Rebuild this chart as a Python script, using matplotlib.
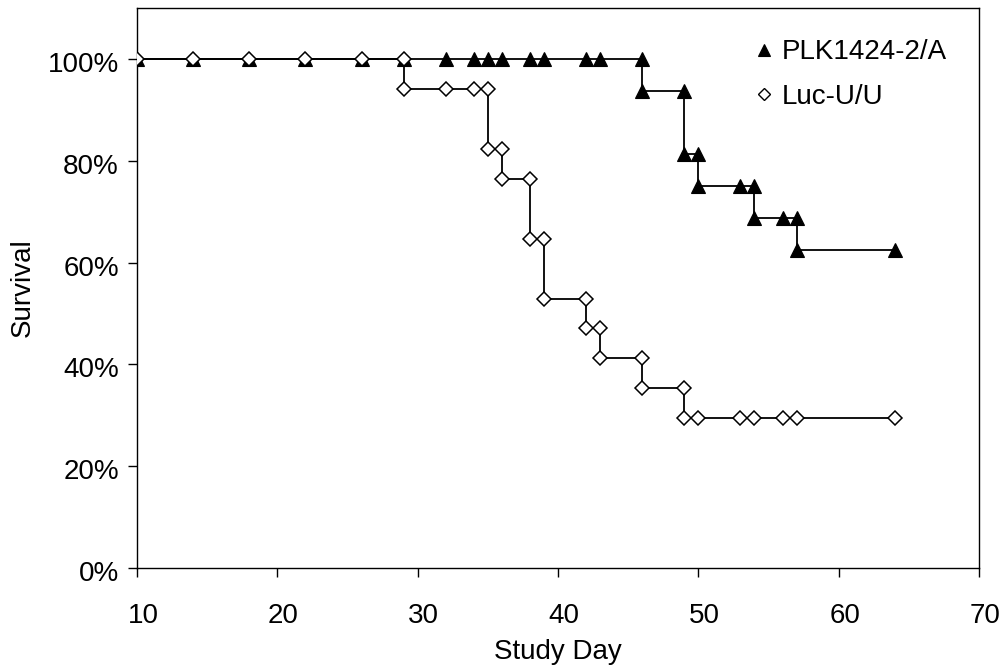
import matplotlib
matplotlib.use('Agg')
import matplotlib.pyplot as plt
import matplotlib.transforms as mtrans
from matplotlib.lines import Line2D
from matplotlib.ticker import FuncFormatter

plt.rcParams['font.family'] = ['Liberation Sans', 'DejaVu Sans']

# ---- data (step-wise Kaplan-Meier points, duplicated day at each drop) ----
plk_days = [10, 14, 18, 22, 26, 29, 32, 34, 35, 36, 38, 39, 42, 43, 46,
            46, 49, 49, 50, 50, 53, 54, 54, 56, 57, 57, 64]
plk_survival = [1.0, 1.0, 1.0, 1.0, 1.0, 1.0, 1.0, 1.0, 1.0, 1.0, 1.0, 1.0, 1.0, 1.0, 1.0,
                0.9375, 0.9375, 0.8125, 0.8125, 0.75, 0.75, 0.75, 0.6875, 0.6875, 0.6875,
                0.625, 0.625]

luc_days = [10, 14, 18, 22, 26, 29,
            29, 32, 34, 35,
            35, 36,
            36, 38,
            38, 39,
            39, 42,
            42, 43,
            43, 46,
            46, 49,
            49, 50, 53, 54, 56, 57, 64]
luc_survival = [1.0, 1.0, 1.0, 1.0, 1.0, 1.0,
                0.941, 0.941, 0.941, 0.941,
                0.824, 0.824,
                0.765, 0.765,
                0.647, 0.647,
                0.529, 0.529,
                0.471, 0.471,
                0.412, 0.412,
                0.353, 0.353,
                0.294, 0.294, 0.294, 0.294, 0.294, 0.294, 0.294]

series_labels = ['PLK1424-2/A', 'Luc-U/U']
x_ticks = [10, 20, 30, 40, 50, 60, 70]
y_ticks = [0.0, 0.2, 0.4, 0.6, 0.8, 1.0]
x_label = 'Study Day'
y_label = 'Survival'

FS = 20

fig = plt.figure(figsize=(10.08, 6.69), dpi=100)
ax = fig.add_axes([137 / 1008, 101 / 669, 842 / 1008, 560 / 669])

ax.plot(plk_days, plk_survival, color='black', lw=1.3, marker='^', ms=10.5,
        mfc='black', mec='black', mew=0.8, zorder=2)
ax.plot(luc_days, luc_survival, color='black', lw=1.3, marker='D', ms=7.2,
        mfc='white', mec='black', mew=1.1, zorder=3)

ax.set_xlim(10, 70)
ax.set_ylim(0, 1.1)
ax.set_xticks(x_ticks)
ax.set_yticks(y_ticks)
ax.yaxis.set_major_formatter(FuncFormatter(lambda v, p: f'{v:.0%}'))

for s in ax.spines.values():
    s.set_linewidth(1.0)
    s.set_color('black')

ax.tick_params(axis='both', direction='out', length=6.5, width=1.0, labelsize=FS, colors='black')
ax.tick_params(axis='x', pad=18.5)
ax.tick_params(axis='y', pad=6.5)

for lab in ax.get_xticklabels():
    lab.set_transform(lab.get_transform() + mtrans.ScaledTranslation(6 / 100, 0, fig.dpi_scale_trans))
for lab in ax.get_yticklabels():
    lab.set_transform(lab.get_transform() + mtrans.ScaledTranslation(0, -3 / 100, fig.dpi_scale_trans))

ax.set_xlabel(x_label, fontsize=FS)
ax.set_ylabel(y_label, fontsize=FS)
ax.xaxis.set_label_coords(0.5, -0.127)
ax.yaxis.set_label_coords(-0.12, 0.5)

handles = [Line2D([], [], ls='none', marker='^', ms=8.5, mfc='black', mec='black', mew=0.8),
           Line2D([], [], ls='none', marker='D', ms=6, mfc='white', mec='black', mew=1.0)]
ax.legend(handles, series_labels, loc='upper left', bbox_to_anchor=(0.731, 0.944),
          frameon=False, fontsize=FS, borderpad=0, borderaxespad=0,
          handlelength=0.8, handletextpad=0.25, labelspacing=0.66)

fig.savefig('out.png', dpi=100)
